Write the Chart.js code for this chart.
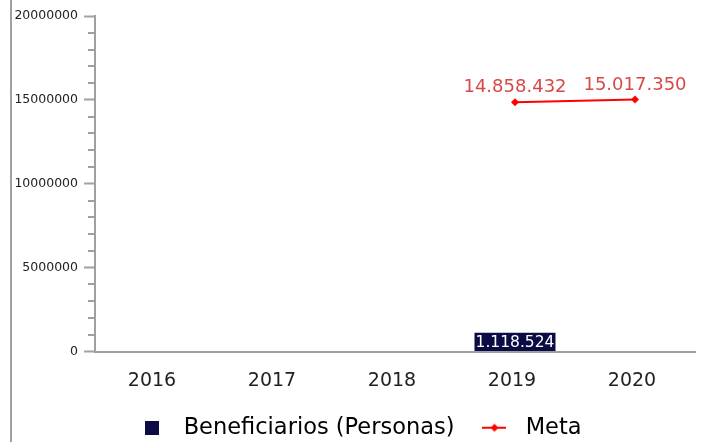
<!DOCTYPE html>
<html>
<head>
<meta charset="utf-8">
<script src="https://cdn.jsdelivr.net/npm/chart.js@4"></script>
<style>
  html, body { margin: 0; padding: 0; background: #fff; overflow: hidden; }
  #wrap { position: relative; width: 703px; height: 442px; }
  #edge { position: absolute; left: 10px; top: 0; width: 2px; height: 442px; background: #a0a0a0; }
</style>
</head>
<body>
<div id="wrap">
  <div id="edge"></div>
  <canvas id="chart" width="703" height="442"></canvas>
</div>
<script>
const years = ['2016', '2017', '2018', '2019', '2020'];
const beneficiarios = [null, null, null, 1118524, null];
const meta = [null, null, null, 14858432, 15017350];
const yTicks = [0, 5000000, 10000000, 15000000, 20000000];

const NAVY = '#0c0c45';
const RED = '#ff0000';
const LABEL_RED = '#d84848';
const AXIS = '#a0a0a0';
const FONT = "'DejaVu Sans', sans-serif";

function fmt(v) {
  return String(v).replace(/\B(?=(\d{3})+(?!\d))/g, '.');
}

function makeIcon(w, h, draw) {
  const c = document.createElement('canvas');
  c.width = w; c.height = h;
  draw(c.getContext('2d'));
  return c;
}
const squareIcon = makeIcon(14, 14, g => { g.fillStyle = NAVY; g.fillRect(0, 0, 14, 14); });
const metaIcon = makeIcon(24, 10, g => {
  g.strokeStyle = RED; g.lineWidth = 2;
  g.beginPath(); g.moveTo(0, 5); g.lineTo(24, 5); g.stroke();
  g.fillStyle = RED;
  g.beginPath(); g.moveTo(12, 1); g.lineTo(16, 5); g.lineTo(12, 9); g.lineTo(8, 5); g.closePath(); g.fill();
});

// minor y ticks + value labels
const extras = {
  id: 'extras',
  afterLayout(chart) {
    // nudge legend a bit to the right
    chart.legend.left += 4;
    chart.legend.right += 4;
  },
  afterDatasetsDraw(chart) {
    const ctx = chart.ctx;
    const y = chart.scales.y;
    ctx.save();
    ctx.strokeStyle = AXIS;
    ctx.lineWidth = 2;
    y.ticks.forEach(t => {
      if (t.value % 5000000 === 0) return;
      const py = Math.round(y.getPixelForValue(t.value));
      ctx.beginPath();
      ctx.moveTo(y.right - 7, py);
      ctx.lineTo(y.right, py);
      ctx.stroke();
    });

    ctx.font = '15.5px ' + FONT;
    ctx.fillStyle = '#ffffff';
    ctx.textAlign = 'center';
    ctx.textBaseline = 'middle';
    chart.getDatasetMeta(0).data.forEach((bar, i) => {
      if (beneficiarios[i] == null) return;
      ctx.fillText(fmt(beneficiarios[i]), bar.x, (bar.y + bar.base) / 2 + 1);
    });

    ctx.font = '18px ' + FONT;
    ctx.fillStyle = LABEL_RED;
    ctx.textBaseline = 'alphabetic';
    chart.getDatasetMeta(1).data.forEach((pt, i) => {
      if (meta[i] == null) return;
      ctx.fillText(fmt(meta[i]), pt.x, pt.y - 10);
    });
    ctx.restore();
  }
};

new Chart(document.getElementById('chart'), {
  data: {
    labels: years,
    datasets: [
      {
        type: 'bar',
        label: 'Beneficiarios (Personas)',
        data: beneficiarios,
        backgroundColor: NAVY,
        categoryPercentage: 0.9,
        barPercentage: 0.75,
        order: 2
      },
      {
        type: 'line',
        label: 'Meta',
        data: meta,
        borderColor: RED,
        backgroundColor: RED,
        borderWidth: 2,
        pointStyle: 'rectRot',
        pointRadius: 4,
        pointBorderWidth: 0,
        order: 1
      }
    ]
  },
  options: {
    responsive: false,
    animation: false,
    layout: { padding: { left: 11, right: 8, top: 16, bottom: -7 } },
    plugins: {
      tooltip: { enabled: false },
      legend: {
        position: 'bottom',
        labels: {
          usePointStyle: true,
          pointStyleWidth: 40,
          boxHeight: 14,
          padding: 20,
          color: '#333',
          font: { family: FONT, size: 22.5 },
          generateLabels: () => [
            { text: 'Beneficiarios (Personas)', pointStyle: squareIcon, fillStyle: NAVY, strokeStyle: NAVY, lineWidth: 0, datasetIndex: 0 },
            { text: 'Meta', pointStyle: metaIcon, fillStyle: RED, strokeStyle: RED, lineWidth: 0, datasetIndex: 1 }
          ]
        }
      }
    },
    scales: {
      x: {
        afterFit(scale) { scale.height = 45; },
        grid: { display: false, drawTicks: false },
        border: { color: AXIS, width: 2 },
        ticks: { color: '#222', font: { family: FONT, size: 19 }, padding: 18, labelOffset: -3 }
      },
      y: {
        min: 0,
        max: 20000000,
        afterFit(scale) { scale.width = 84; },
        grid: {
          drawOnChartArea: false,
          tickLength: 11,
          tickWidth: 2,
          tickColor: c => (c.tick && c.tick.value % 5000000 === 0) ? AXIS : 'rgba(0,0,0,0)'
        },
        border: { color: AXIS, width: 2 },
        ticks: {
          stepSize: 1000000,
          autoSkip: false,
          padding: 6,
          color: '#222',
          font: { family: FONT, size: 12.5 },
          callback: v => yTicks.includes(v) ? String(v) : ''
        }
      }
    }
  },
  plugins: [extras]
});
</script>
</body>
</html>
